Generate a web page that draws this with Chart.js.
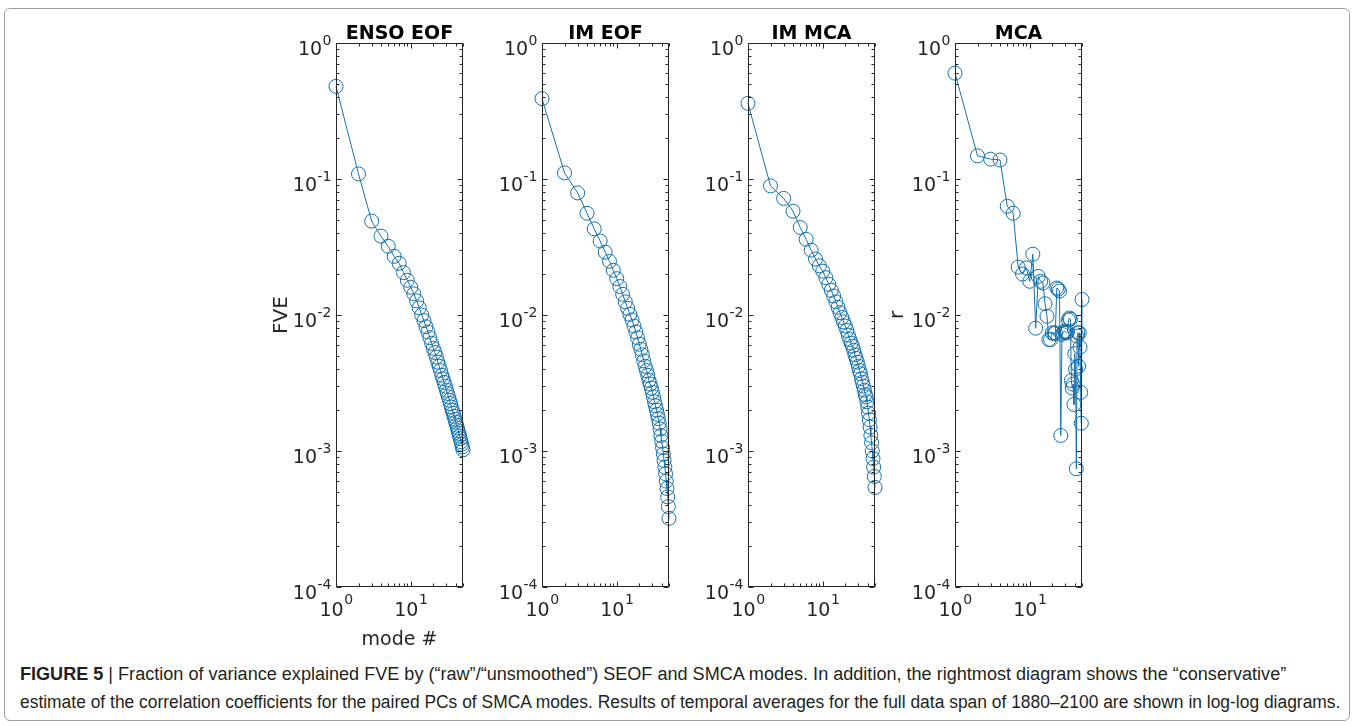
<!DOCTYPE html>
<html>
<head>
<meta charset="utf-8">
<script src="https://cdn.jsdelivr.net/npm/chart.js@4.4.1/dist/chart.umd.min.js"></script>
<style>
  body { margin: 0; background: #fff; width: 1355px; height: 726px; overflow: hidden; position: relative; }
  #frame { position: absolute; left: 4px; top: 8px; width: 1346px; height: 713px; border: 1px solid #a0a0a0; border-radius: 6px; box-sizing: border-box; }
  canvas.panel { position: absolute; top: 0; }
  .cap { position: absolute; left: 20px; white-space: nowrap; font-family: "Liberation Sans Narrow", "Liberation Sans", Arial, sans-serif; font-size: 18px; color: #231f20; transform-origin: 0 0; }
  .cap b { font-weight: bold; }
</style>
</head>
<body>
<div id="frame"></div>
<canvas class="panel" id="p0"></canvas>
<canvas class="panel" id="p1"></canvas>
<canvas class="panel" id="p2"></canvas>
<canvas class="panel" id="p3"></canvas>
<div class="cap" id="cap1" style="top:664px"><b>FIGURE 5</b> | Fraction of variance explained FVE by (“raw”/“unsmoothed”) SEOF and SMCA modes. In addition, the rightmost diagram shows the “conservative”</div>
<div class="cap" id="cap2" style="top:692px">estimate of the correlation coefficients for the paired PCs of SMCA modes. Results of temporal averages for the full data span of 1880–2100 are shown in log-log diagrams.</div>
<script>
// mode numbers (x) and the four series
var modes = [1,2,3,4,5,6,7,8,9,10,11,12,13,14,15,16,17,18,19,20,21,22,23,24,25,
             26,27,28,29,30,31,32,33,34,35,36,37,38,39,40,41,42,43,44,45,46,47,48,49,50];

var ensoEof = [0.48, 0.109, 0.049, 0.038, 0.032, 0.027, 0.024, 0.0205, 0.018, 0.016,
               0.0143, 0.0127, 0.0113, 0.0100, 0.0091, 0.0082, 0.0075, 0.0068, 0.0062, 0.0057,
               0.0053, 0.0049, 0.0045, 0.0042, 0.0039, 0.0036, 0.0034, 0.0032, 0.0030, 0.0028,
               0.00265, 0.0025, 0.00236, 0.00223, 0.0021, 0.00199, 0.00189, 0.0018, 0.00171, 0.00163,
               0.00155, 0.00148, 0.00141, 0.00135, 0.00129, 0.00123, 0.00117, 0.00112, 0.00107, 0.00102];

var imEof = [0.39, 0.111, 0.079, 0.056, 0.043, 0.035, 0.029, 0.0248, 0.0213, 0.0185,
             0.0162, 0.0142, 0.0125, 0.0112, 0.0101, 0.0092, 0.0083, 0.0075, 0.0068, 0.0061,
             0.0056, 0.0051, 0.0046, 0.0042, 0.0039, 0.0036, 0.0033, 0.0031, 0.0029, 0.0027,
             0.0025, 0.0023, 0.00215, 0.0020, 0.00186, 0.00173, 0.0016, 0.00145, 0.0013, 0.00118,
             0.00106, 0.00095, 0.00085, 0.00076, 0.00068, 0.0006, 0.00053, 0.00046, 0.00039, 0.00032];

var imMca = [0.36, 0.089, 0.072, 0.058, 0.044, 0.036, 0.030, 0.0258, 0.023, 0.021,
             0.0188, 0.0168, 0.0152, 0.0138, 0.0125, 0.0114, 0.0104, 0.0096, 0.0089, 0.0083,
             0.0077, 0.0071, 0.0066, 0.0062, 0.0059, 0.0055, 0.0051, 0.0048, 0.0045, 0.0042,
             0.0039, 0.0037, 0.0034, 0.0032, 0.0030, 0.0028, 0.0026, 0.0025, 0.0023, 0.0021,
             0.0019, 0.0017, 0.0015, 0.0013, 0.00115, 0.0010, 0.00088, 0.00076, 0.00065, 0.00054];

var mcaR = [0.60, 0.148, 0.140, 0.138, 0.063, 0.056, 0.0225, 0.0200, 0.0222, 0.0177,
            0.028, 0.008, 0.0192, 0.0177, 0.0172, 0.0121, 0.0098, 0.0066, 0.0066, 0.0074,
            0.0073, 0.0074, 0.0158, 0.0155, 0.0150, 0.0013, 0.0072, 0.0074, 0.0076, 0.0075,
            0.0074, 0.0075, 0.0092, 0.0095, 0.0093, 0.0033, 0.0029, 0.0031, 0.0022, 0.0052,
            0.0040, 0.00074, 0.0070, 0.0074, 0.0042, 0.0074, 0.0058, 0.0027, 0.0016, 0.013];

var panelTitles = ["ENSO EOF", "IM EOF", "IM MCA", "MCA"];
var yTickExps = [0, -1, -2, -3, -4];
var xTickExps = [0, 1];

var series = [ensoEof, imEof, imMca, mcaR];
var plotLefts = [336, 542, 748, 955];
var yLabels = ["FVE", "", "", "r"];
var xLabels = ["mode #", "", "", ""];

var PLOT_W = 127, PLOT_TOP = 43, PLOT_BOTTOM = 587;
var PAD_L = 80, PAD_R = 14, CANV_H = 660;
var AXIS_COL = "#262626";
var LINE_COL = "#1470ad";
var FONT = '"DejaVu Sans", "Liberation Sans", sans-serif';
var BIG = "19px " + FONT, SMALL = "14px " + FONT;

function drawPowY(ctx, e, xRight, ty) {
  ctx.font = BIG;
  var wb = ctx.measureText("10").width;
  ctx.font = SMALL;
  var we = ctx.measureText(String(e)).width;
  var x0 = xRight - we - wb;
  ctx.textAlign = "left";
  ctx.textBaseline = "alphabetic";
  ctx.font = BIG;
  ctx.fillText("10", x0, ty + 12);
  ctx.font = SMALL;
  ctx.fillText(String(e), x0 + wb + 0.5, ty + 2);
}

function drawPowX(ctx, e, cx, bottom) {
  ctx.font = BIG;
  var wb = ctx.measureText("10").width;
  ctx.font = SMALL;
  var we = ctx.measureText(String(e)).width;
  var x0 = cx - (wb + we) / 2;
  ctx.textAlign = "left";
  ctx.textBaseline = "alphabetic";
  ctx.font = BIG;
  ctx.fillText("10", x0, bottom + 29);
  ctx.font = SMALL;
  ctx.fillText(String(e), x0 + wb + 0.5, bottom + 17);
}

var matlabAxes = {
  id: "matlabAxes",
  afterDraw: function(chart, args, opts) {
    var ctx = chart.ctx, a = chart.chartArea;
    var xs = chart.scales.x, ys = chart.scales.y;
    var L = Math.round(a.left) + 0.5, R = Math.round(a.right) - 0.5;
    var T = Math.round(a.top) + 0.5, B = Math.round(a.bottom) - 0.5;
    ctx.save();
    ctx.strokeStyle = AXIS_COL;
    ctx.lineWidth = 1;
    ctx.strokeRect(L, T, R - L, B - T);

    ctx.beginPath();
    // y ticks, inside on both sides
    for (var e = -4; e <= 0; e++) {
      for (var m = 1; m <= 9; m++) {
        var v = m * Math.pow(10, e);
        if (v > 1.0001) break;
        var py = Math.round(ys.getPixelForValue(v)) + 0.5;
        var len = (m === 1) ? 5 : 3;
        ctx.moveTo(L, py); ctx.lineTo(L + len, py);
        ctx.moveTo(R, py); ctx.lineTo(R - len, py);
      }
    }
    // x ticks, inside on top and bottom
    for (var ex = 0; ex <= 1; ex++) {
      for (var mx = 1; mx <= 9; mx++) {
        var vx = mx * Math.pow(10, ex);
        if (vx > 50) break;
        var px = Math.round(xs.getPixelForValue(vx)) + 0.5;
        var lx = (mx === 1) ? 5 : 3;
        ctx.moveTo(px, B); ctx.lineTo(px, B - lx);
        ctx.moveTo(px, T); ctx.lineTo(px, T + lx);
      }
    }
    ctx.stroke();

    ctx.fillStyle = AXIS_COL;
    yTickExps.forEach(function(e) {
      drawPowY(ctx, e, a.left - 5, ys.getPixelForValue(Math.pow(10, e)));
    });
    xTickExps.forEach(function(e) {
      drawPowX(ctx, e, xs.getPixelForValue(Math.pow(10, e)), a.bottom);
    });

    // title
    ctx.fillStyle = "#000";
    ctx.font = "bold 19px " + FONT;
    ctx.textAlign = "center";
    ctx.textBaseline = "alphabetic";
    ctx.fillText(opts.title, (a.left + a.right) / 2, a.top - 4);

    // axis labels
    ctx.fillStyle = AXIS_COL;
    if (opts.yLabel) {
      ctx.save();
      ctx.translate(a.left - (opts.yLabel === "r" ? 52 : 49), (a.top + a.bottom) / 2);
      ctx.rotate(-Math.PI / 2);
      ctx.font = "20px " + FONT;
      ctx.textAlign = "center";
      ctx.textBaseline = "alphabetic";
      ctx.fillText(opts.yLabel, 0, 0);
      ctx.restore();
    }
    if (opts.xLabel) {
      ctx.font = "19px " + FONT;
      ctx.textAlign = "center";
      ctx.fillText(opts.xLabel, (a.left + a.right) / 2, a.bottom + 58);
    }
    ctx.restore();
  }
};

for (var i = 0; i < 4; i++) {
  var cv = document.getElementById("p" + i);
  cv.width = PAD_L + PLOT_W + PAD_R;
  cv.height = CANV_H;
  cv.style.left = (plotLefts[i] - PAD_L) + "px";

  var pts = modes.map(function(k, j) { return { x: k, y: series[i][j] }; });

  new Chart(cv, {
    type: "line",
    data: {
      datasets: [{
        data: pts,
        borderColor: LINE_COL,
        borderWidth: 1,
        pointRadius: 7,
        pointBorderWidth: 1,
        pointBorderColor: LINE_COL,
        pointBackgroundColor: "rgba(0,0,0,0)",
        tension: 0,
        fill: false,
        clip: false
      }]
    },
    options: {
      responsive: false,
      animation: false,
      events: [],
      layout: { padding: { left: PAD_L, right: PAD_R, top: PLOT_TOP, bottom: CANV_H - PLOT_BOTTOM } },
      scales: {
        x: { type: "logarithmic", min: 1, max: 50, display: false },
        y: { type: "logarithmic", min: 1e-4, max: 1, display: false }
      },
      plugins: {
        legend: { display: false },
        tooltip: { enabled: false },
        matlabAxes: { title: panelTitles[i], yLabel: yLabels[i], xLabel: xLabels[i] }
      }
    },
    plugins: [matlabAxes]
  });
}

// squeeze caption lines to the width they take in the figure
function fitCap(id, target) {
  var el = document.getElementById(id);
  var w = el.scrollWidth;
  el.style.transform = "scaleX(" + (target / w) + ")";
}
fitCap("cap1", 1266);
fitCap("cap2", 1320);
</script>
</body>
</html>
